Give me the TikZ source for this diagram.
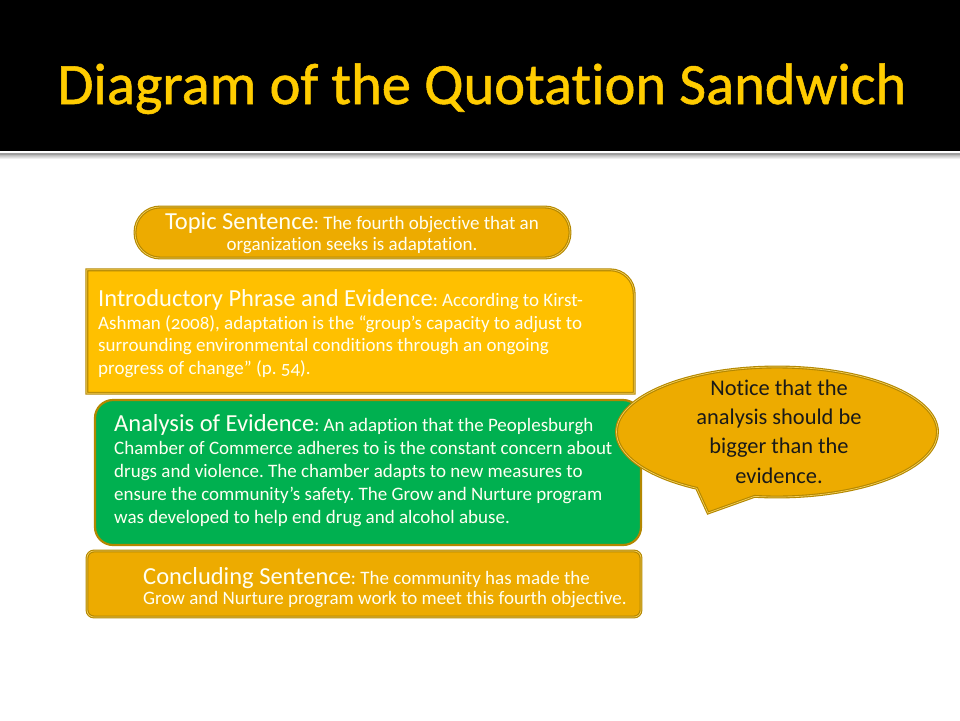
\documentclass[tikz,border=0pt]{standalone}
\usepackage{fontspec}
\setmainfont{Carlito}[Ligatures=NoCommon,Numbers=OldStyle]
\newfontfamily\titlefont{Carlito}[Ligatures=NoCommon,FakeBold=0.9]
\usetikzlibrary{shapes.callouts,backgrounds}
\frenchspacing
\definecolor{headgold}{HTML}{FFCC00}
\definecolor{boxgold}{HTML}{EDAB00}
\definecolor{boxyellow}{HTML}{FFC000}
\definecolor{boxgreen}{HTML}{00B050}
\definecolor{rimgold}{HTML}{B38700}
\definecolor{rimlight}{HTML}{F5CF5A}
\definecolor{paleink}{HTML}{FFFFF2}
\newcommand{\hd}[1]{{\fontsize{24.5}{26}\selectfont #1}}

\begin{document}
\begin{tikzpicture}[x=1pt,y=-1pt,
    rim/.style={draw=rimgold,double=rimlight,double distance=0.7pt,line width=1.1pt},
    boxtext/.style={text=paleink,align=flush left,inner sep=0pt,font=\fontsize{19}{22.9}\selectfont},
    pill/.style={rim,fill=boxgold,rounded corners=25pt,minimum width=435pt,minimum height=51pt},
    introbox/.style={rim,fill=boxyellow},
    greenbox/.style={draw=rimgold,line width=2.2pt,fill=boxgreen,rounded corners=18pt,
      minimum width=546pt,minimum height=145pt},
    goldbox/.style={rim,fill=boxgold,rounded corners=7pt,minimum width=554pt,minimum height=66pt},
    note/.style={ellipse callout,rim,fill=boxgold,minimum width=321pt,minimum height=130pt,
      callout pointer arc=22},
    notetext/.style={align=center,inner sep=0pt,text=black!90,font=\fontsize{22.4}{29.3}\selectfont}]
      \useasboundingbox (0,0) rectangle (960,720);
      \fill[black] (0,0) rectangle (960,151);
      \fill[gray!75] (0,153) rectangle (960,155.5);
      \shade[top color=gray!45,bottom color=white] (0,155.5) rectangle (960,159);
      \node[text=headgold,font=\titlefont\fontsize{58.5}{60}\selectfont,anchor=base] (title) at (482,104)
        {Diagram of the Quotation Sandwich};

      \node[pill] (topic) at (352.5,232.5) {};
      \node[boxtext,align=center,font=\fontsize{19}{20.5}\selectfont,anchor=base] (topictext) at (352,250)
        {\hd{Topic Sentence}: The fourth objective that an\\organization seeks is adaptation.};

      \node[minimum width=547pt,minimum height=123pt,inner sep=0pt] (intro) at (360.5,331.5) {};
      \begin{scope}[on background layer]
        \draw[introbox] (intro.south west) -- (intro.north west)
          -- ([xshift=-24pt]intro.north east) arc[start angle=90,end angle=0,radius=24pt]
          -- (intro.south east) -- cycle;
      \end{scope}
      \node[boxtext,text width=530pt,font=\fontsize{19}{22.5}\selectfont,anchor=base west] (introtext)
        at (98,306)
        {\hd{Introductory Phrase and Evidence}: According to Kirst-\\[0.8pt]
         Ashman (2008), adaptation is the “group’s capacity to adjust to\\
         surrounding environmental conditions through an ongoing\\
         progress of change” (p. 54).};

      \node[greenbox] (analysis) at (368,472.5) {};
      \node[boxtext,text width=515pt,anchor=base west] (analysistext) at (114,431.7)
        {\hd{Analysis of Evidence}: An adaption that the Peoplesburgh\\
         Chamber of Commerce adheres to is the constant concern about\\
         drugs and violence. The chamber adapts to new measures to\\
         ensure the community’s safety. The Grow and Nurture program\\
         was developed to help end drug and alcohol abuse.};

      \node[goldbox] (conclude) at (364,584) {};
      \node[boxtext,text width=490pt,font=\fontsize{19}{20}\selectfont,anchor=base west] (concludetext)
        at (143,584.5)
        {\hd{Concluding Sentence}: The community has made the\\
         Grow and Nurture program work to meet this fourth objective.};

      \node[note,callout absolute pointer={(708,513)}] (callout) at (777,432) {};
      \node[notetext,anchor=base] (calloutext) at (779,483)
        {Notice that the\\analysis should be\\bigger than the\\evidence.};
    \end{tikzpicture}
\end{document}
